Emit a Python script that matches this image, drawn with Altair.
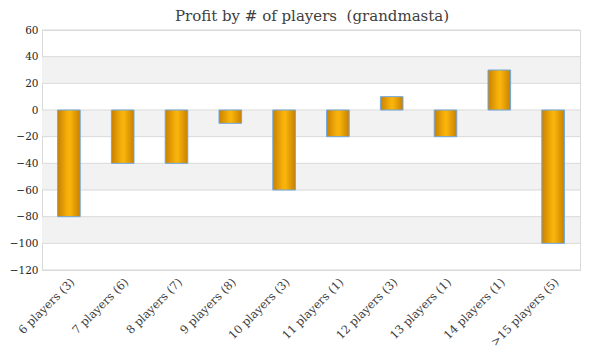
import altair as alt
import pandas as pd

categories = ["6 players (3)", "7 players (6)", "8 players (7)", "9 players (8)",
              "10 players (3)", "11 players (1)", "12 players (3)", "13 players (1)",
              "14 players (1)", ">15 players (5)"]
profits = [-80, -40, -40, -10, -60, -20, 10, -20, 30, -100]
title_text = ["Profit by # of players\u00a0 (grandmasta)"]

y_ticks = [60, 40, 20, 0, -20, -40, -60, -80, -100, -120]
band_starts = [40, 0, -40, -80]
band_ends = [20, -20, -60, -100]

df = pd.DataFrame({"cat": categories, "profit": profits})
bands = pd.DataFrame({"y": band_starts, "y2": band_ends})

FONT = "DejaVu Serif"
yscale = alt.Scale(domain=[-120, 60], nice=False)
yaxis = alt.Axis(values=y_ticks, labelFont=FONT, labelFontSize=10.5,
                 labelColor="#262626", ticks=False, grid=False,
                 domainColor="#d9d9d9", labelPadding=4,
                 labelOverlap=False, labelBound=False, labelFlush=False)

band_layer = alt.Chart(bands).mark_rect(color="#f2f2f2").encode(
    y=alt.Y("y:Q", scale=yscale, axis=yaxis, title=None),
    y2="y2:Q",
)

grid_layer = alt.Chart(pd.DataFrame({"t": y_ticks})).mark_rule(color="#d9d9d9", strokeWidth=1).encode(
    y=alt.Y("t:Q", scale=yscale, axis=yaxis, title=None)
)

grad = alt.Gradient(
    gradient="linear",
    stops=[
        alt.GradientStop(color="#c98000", offset=0),
        alt.GradientStop(color="#f7b10a", offset=0.45),
        alt.GradientStop(color="#f9b50c", offset=0.55),
        alt.GradientStop(color="#c98000", offset=1),
    ],
    x1=0, x2=1, y1=0, y2=0,
)

bars = alt.Chart(df).mark_bar(color=grad, stroke="#6fa8e0", strokeWidth=1).encode(
    x=alt.X("cat:N", sort=categories, title=None,
            scale=alt.Scale(paddingInner=0.58, paddingOuter=0.29),
            axis=alt.Axis(labelAngle=-45, labelFont=FONT, labelFontSize=11.5,
                          labelColor="#404040", ticks=False, domain=False,
                          labelPadding=6, labelOverlap=False)),
    y=alt.Y("profit:Q", scale=yscale, title=None, axis=yaxis),
    y2=alt.datum(0),
)

title_layer = alt.Chart(pd.DataFrame({"t": title_text})).mark_text(
    font=FONT, fontSize=15, color="#404040", baseline="top", align="center"
).encode(text="t:N", x=alt.value(270), y=alt.value(-21))

chart = alt.layer(band_layer, grid_layer, bars, title_layer).properties(
    width=538, height=240,
    autosize=alt.AutoSizeParams(type="none"),
    padding={"left": 34, "top": 22, "right": 12, "bottom": 80},
).configure_view(stroke="#d9d9d9", strokeWidth=1)

chart.save("out.html", embed_options={"renderer": "svg", "actions": False})
